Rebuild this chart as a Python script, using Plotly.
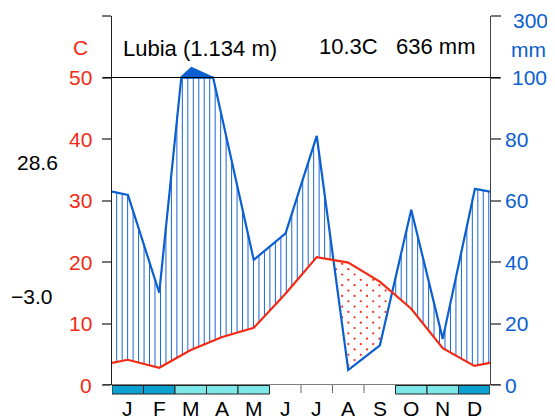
import numpy as np
import plotly.graph_objects as go

# ---------------- data ----------------
months = ["J", "F", "M", "A", "M", "J", "J", "A", "S", "O", "N", "D"]
temp = [4.1, 2.8, 5.7, 7.8, 9.3, 14.8, 20.8, 19.9, 16.8, 12.4, 6.0, 3.1]      # deg C
precip = [62, 30, 133, 86.5, 40.7, 49, 81, 4.9, 12.7, 57, 15, 63.8]            # mm
frost = [2, 2, 1, 1, 1, 0, 0, 0, 0, 1, 1, 2]   # 2 = sure frost, 1 = probable frost
station = "Lubia (1.134 m)"
mean_temp = "10.3C"
annual_precip = "636 mm"
max_warm = "28.6"
min_cold = "\u22123.0"
temp_ticks = [0, 10, 20, 30, 40, 50]
precip_tick_pos = [0, 10, 20, 30, 40, 50, 60]
precip_tick_text = ["0", "20", "40", "60", "80", "100", "300"]

# ---------------- geometry helpers ----------------
OFF = 8                      # default page body margin
W, H = 555, 420
L, R, T, B = 112, 490, 16, 385
PW, PH = R - L, B - T
FONT = "Liberation Sans"
BLUE = "#0b5fd0"
HATCH = "#1a66d6"
RED = "#f22a14"
FS = 21

def xp(px):
    return (px - L) / PW

def yp(py):
    return (B - py) / PH

def pscale(p):
    p = np.asarray(p, dtype=float)
    return np.where(p <= 100, p / 2.0, 50 + (p - 100) / 20.0)

# extended series with edge values (average of Dec/Jan)
xc = [i + 0.5 for i in range(12)]
te = [(temp[0] + temp[-1]) / 2] + temp + [(temp[0] + temp[-1]) / 2]
pe = [(precip[0] + precip[-1]) / 2] + precip + [(precip[0] + precip[-1]) / 2]
xe = [0] + xc + [12]

xf = np.linspace(0, 12, 2401)
tf = np.interp(xf, xe, te)
pf = np.interp(xf, xe, pe)
pline = np.minimum(pf / 2.0, 50)

fig = go.Figure()

# hatch (humid) vertical lines
hx, hy = [], []
for xv in np.arange(0.149, 12, 0.1737):
    tv = np.interp(xv, xe, te)
    pv = min(np.interp(xv, xe, pe) / 2.0, 50)
    if pv > tv:
        hx += [xv, xv, None]
        hy += [tv, pv, None]
fig.add_trace(go.Scatter(x=hx, y=hy, mode="lines", line=dict(color=HATCH, width=1),
                         hoverinfo="skip", showlegend=False))

# arid dots
dx, dy = [], []
for k in range(-40, 40):
    xv = 7.11 + k * 0.197
    if xv <= 0 or xv >= 12:
        continue
    tv = np.interp(xv, xe, te)
    pv = min(np.interp(xv, xe, pe) / 2.0, 50)
    if tv <= pv:
        continue
    off = 0.0 if k % 2 == 0 else 0.87
    for j in range(-20, 20):
        yv = 18.84 + off + j * 1.74
        if pv + 0.4 < yv < tv - 0.3:
            dx.append(xv)
            dy.append(yv)
fig.add_trace(go.Scatter(x=dx, y=dy, mode="markers",
                         marker=dict(color=RED, size=2.2, line=dict(width=0)),
                         hoverinfo="skip", showlegend=False))

# compressed precipitation above 100 mm (solid)
mask = pf > 100
if mask.any():
    idx = np.where(mask)[0]
    i0, i1 = max(idx[0] - 1, 0), min(idx[-1] + 1, len(xf) - 1)
    px_ = list(xf[i0:i1 + 1])
    py_ = list(np.maximum(pscale(pf[i0:i1 + 1]), 50))
    fig.add_trace(go.Scatter(x=px_ + [px_[-1], px_[0]], y=py_ + [50, 50], mode="lines",
                             fill="toself", fillcolor=BLUE, line=dict(color=BLUE, width=1.5),
                             hoverinfo="skip", showlegend=False))

# precipitation line
fig.add_trace(go.Scatter(x=xf, y=pline, mode="lines", line=dict(color=BLUE, width=2.2),
                         hoverinfo="skip", showlegend=False))
# temperature line
fig.add_trace(go.Scatter(x=xe, y=te, mode="lines", line=dict(color=RED, width=2.2),
                         hoverinfo="skip", showlegend=False))

# dummy trace for secondary axis
fig.add_trace(go.Scatter(x=[0], y=[0], yaxis="y2", mode="markers",
                         marker=dict(opacity=0), hoverinfo="skip", showlegend=False))

shapes = []
# 50 C / 100 mm line and base line
for yv in [50, 0]:
    shapes.append(dict(type="line", xref="paper", yref="y", x0=xp(103), x1=xp(500),
                       y0=yv, y1=yv, line=dict(color="black", width=1.2)))
# month boundary ticks
for i in range(13):
    shapes.append(dict(type="line", xref="x", yref="paper", x0=i, x1=i,
                       y0=yp(385), y1=yp(393), line=dict(color="#666", width=1)))
# frost boxes
for i, f in enumerate(frost):
    if f == 0:
        continue
    col = "#0aa0d2" if f == 2 else "#7ee8e8"
    shapes.append(dict(type="rect", xref="x", yref="paper", x0=i, x1=i + 1,
                       y0=yp(394), y1=yp(385.5), fillcolor=col,
                       line=dict(color="#222", width=1)))

ann = []
for v in temp_ticks:
    ann.append(dict(x=xp(94), y=v, xref="paper", yref="y", text=str(v), showarrow=False,
                    xanchor="right", yanchor="middle", font=dict(color=RED, size=FS, family=FONT)))
ann.append(dict(x=xp(80), y=yp(47), xref="paper", yref="paper", text="C", showarrow=False,
                xanchor="center", yanchor="middle", font=dict(color=RED, size=FS, family=FONT)))
for v, t in zip(precip_tick_pos, precip_tick_text):
    if v == 60:
        ann.append(dict(x=xp(530), y=yp(21), xref="paper", yref="paper", text=t, showarrow=False,
                        xanchor="center", yanchor="middle", font=dict(color=BLUE, size=FS, family=FONT)))
    elif v == 50:
        ann.append(dict(x=xp(529), y=v, xref="paper", yref="y", text=t, showarrow=False,
                        xanchor="center", yanchor="middle", font=dict(color=BLUE, size=FS, family=FONT)))
    else:
        ann.append(dict(x=xp(503), y=v, xref="paper", yref="y", text=t, showarrow=False,
                        xanchor="left", yanchor="middle", font=dict(color=BLUE, size=FS, family=FONT)))
ann.append(dict(x=xp(528), y=yp(50), xref="paper", yref="paper", text="mm", showarrow=False,
                xanchor="center", yanchor="middle", font=dict(color=BLUE, size=FS, family=FONT)))
for i, m in enumerate(months):
    ann.append(dict(x=i + 0.5, y=yp(409), xref="x", yref="paper", text=m, showarrow=False,
                    xanchor="center", yanchor="middle", font=dict(color="black", size=FS, family=FONT)))
ann.append(dict(x=xp(121), y=yp(48), xref="paper", yref="paper", text=station, showarrow=False,
                xanchor="left", yanchor="middle", font=dict(color="black", size=22, family=FONT)))
ann.append(dict(x=xp(317), y=yp(46), xref="paper", yref="paper", text=mean_temp, showarrow=False,
                xanchor="left", yanchor="middle", font=dict(color="black", size=22, family=FONT)))
ann.append(dict(x=xp(394), y=yp(46), xref="paper", yref="paper", text=annual_precip, showarrow=False,
                xanchor="left", yanchor="middle", font=dict(color="black", size=22, family=FONT)))
ann.append(dict(x=xp(37), y=yp(162), xref="paper", yref="paper", text=max_warm, showarrow=False,
                xanchor="center", yanchor="middle", font=dict(color="black", size=FS, family=FONT)))
ann.append(dict(x=xp(31), y=yp(296), xref="paper", yref="paper", text=min_cold, showarrow=False,
                xanchor="center", yanchor="middle", font=dict(color="black", size=FS, family=FONT)))

fig.update_layout(
    width=W - OFF, height=H - OFF,
    margin=dict(l=L - OFF, r=W - R, t=T - OFF, b=H - B, pad=0),
    paper_bgcolor="white", plot_bgcolor="white", showlegend=False,
    xaxis=dict(range=[0, 12], showgrid=False, zeroline=False, showticklabels=False,
               ticks="", showline=False, fixedrange=True),
    yaxis=dict(range=[0, 60], showgrid=False, zeroline=False, showline=True,
               linecolor="#222", linewidth=1.2, ticks="outside", ticklen=9,
               tickcolor="#777", tickwidth=1.5, tickvals=[0, 10, 20, 30, 40, 50, 60],
               showticklabels=False, fixedrange=True),
    yaxis2=dict(range=[0, 60], overlaying="y", side="right", showgrid=False, zeroline=False,
                showline=True, linecolor="#444", linewidth=1.2, ticks="outside", ticklen=10,
                tickcolor="#777", tickwidth=1.5, tickvals=precip_tick_pos,
                showticklabels=False, fixedrange=True),
    shapes=shapes, annotations=ann,
)

fig.write_html("out.html")
